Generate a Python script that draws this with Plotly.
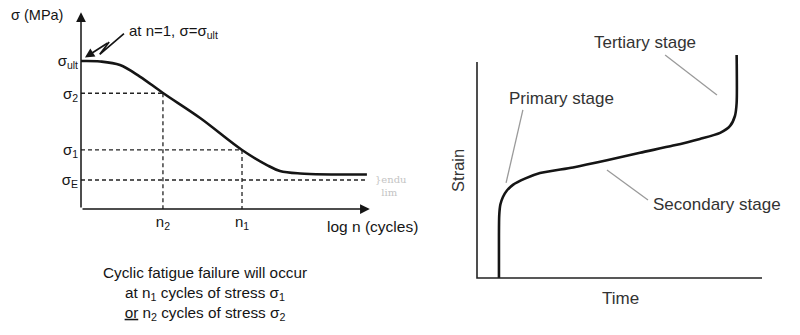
import plotly.graph_objects as go

# ---------------- data ----------------
# Left: S-N (stress vs log cycles) curve
sn_log_n = [0.0, 0.53, 1.08, 1.63, 2.27, 3.30, 4.46, 5.15, 5.51, 6.07, 7.92]
sn_sigma = [100, 99.7, 97.3, 89.5, 78.4, 61.5, 39.9, 29.7, 25.7, 24.0, 23.3]
sigma_tick_vals = [19.6, 39.9, 78.2, 100]
sigma_tick_text = ["σ<sub>E</sub>", "σ<sub>1</sub>", "σ<sub>2</sub>", "σ<sub>ult</sub>"]
n_tick_vals = [2.27, 4.46]
n_tick_text = ["n<sub>2</sub>", "n<sub>1</sub>"]
sigma_E_end = 7.92

# Right: creep curve (strain vs time)
creep_time = [0.77, 0.77, 0.78, 0.82, 0.91, 1.05, 1.26, 1.68, 2.21, 3.37, 4.56,
              5.72, 6.88, 7.82, 8.53, 8.88, 9.05, 9.11, 9.11]
creep_strain = [0.0, 2.0, 2.9, 3.4, 3.75, 4.05, 4.31, 4.6, 4.86, 5.12, 5.45,
                5.8, 6.13, 6.44, 6.72, 7.04, 7.5, 8.1, 10.32]

# ---------------- layout geometry ----------------
W, H = 800, 335
FONT = "Liberation Sans, Arial, sans-serif"
INK = "#151515"

# left panel mapping
L_X0, L_XS, L_Y0, L_YS = 81, 36.1, 209, 1.48
l_xr, l_yr = [-0.3, 8.3], [-3, 135]
# right panel mapping
R_X0, R_XS, R_Y0, R_YS = 477, 28.5, 278, 21.6
r_xr, r_yr = [-1.3, 10.4], [-1.6, 11.5]


def xdom(x0, s, r):
    return [(x0 + r[0] * s) / W, (x0 + r[1] * s) / W]


def ydom(y0, s, r):
    return [(H - (y0 - r[0] * s)) / H, (H - (y0 - r[1] * s)) / H]


fig = go.Figure()

# S-N curve
fig.add_trace(go.Scatter(x=sn_log_n, y=sn_sigma, mode="lines",
                         line=dict(color=INK, width=2.6, shape="spline", smoothing=1.0),
                         xaxis="x", yaxis="y", hoverinfo="skip"))

# dashed guide lines
dx, dy = [], []
for n, s in zip(n_tick_vals, [sigma_tick_vals[2], sigma_tick_vals[1]]):
    dx += [0, n, None, n, n, None]
    dy += [s, s, None, s, 0, None]
dx += [0, sigma_E_end]
dy += [sigma_tick_vals[0], sigma_tick_vals[0]]
fig.add_trace(go.Scatter(x=dx, y=dy, mode="lines",
                         line=dict(color="#222", width=1.3, dash="4px,3px"),
                         xaxis="x", yaxis="y", hoverinfo="skip"))

# zigzag pointer
fig.add_trace(go.Scatter(x=[1.19, 0.52, 0.78], y=[118.5, 104.5, 112.8], mode="lines",
                         line=dict(color=INK, width=1.7),
                         xaxis="x", yaxis="y", hoverinfo="skip"))

# creep curve
fig.add_trace(go.Scatter(x=creep_time, y=creep_strain, mode="lines",
                         line=dict(color=INK, width=2.6, shape="spline", smoothing=0.7),
                         xaxis="x2", yaxis="y2", hoverinfo="skip"))

# right axes and leaders
fig.add_trace(go.Scatter(x=[0, 0, 10], y=[10, 0, 0], mode="lines",
                         line=dict(color="#222", width=1.6),
                         xaxis="x2", yaxis="y2", hoverinfo="skip"))
leaders_x = [6.60, 8.42, None, 1.61, 1.02, None, 4.56, 6.0]
leaders_y = [10.32, 8.47, None, 7.78, 4.40, None, 5.0, 3.61]
fig.add_trace(go.Scatter(x=leaders_x, y=leaders_y, mode="lines",
                         line=dict(color="#9a9a9a", width=1.3),
                         xaxis="x2", yaxis="y2", hoverinfo="skip"))

ann = []
# left axes arrows
ann.append(dict(x=8.0, y=0, ax=0, ay=0, xref="x", yref="y", axref="x", ayref="y",
                showarrow=True, arrowhead=2, arrowsize=1.3, arrowwidth=1.5,
                arrowcolor=INK, text=""))
ann.append(dict(x=0, y=133, ax=0, ay=0, xref="x", yref="y", axref="x", ayref="y",
                showarrow=True, arrowhead=2, arrowsize=1.3, arrowwidth=1.5,
                arrowcolor=INK, text=""))
# zigzag arrow tip
ann.append(dict(x=0.11, y=102.3, ax=0.78, ay=112.8, xref="x", yref="y", axref="x",
                ayref="y", showarrow=True, arrowhead=2, arrowsize=1.1, arrowwidth=1.7,
                arrowcolor=INK, text=""))


def txt(text, x, y, size, color=INK, ref=("paper", "paper"), **kw):
    d = dict(x=x, y=y, xref=ref[0], yref=ref[1], text=text, showarrow=False,
             xanchor=kw.pop("xanchor", "center"), yanchor=kw.pop("yanchor", "middle"),
             font=dict(size=size, color=color, family=kw.pop("family", FONT)))
    d.update(kw)
    return d


ann.append(txt("at n=1, σ=σ<sub>ult</sub>", 127 / W, 1 - 32 / H, 15, xanchor="left"))
ann.append(txt("σ (MPa)", 37 / W, 1 - 15 / H, 14.5))
ann.append(txt("log n (cycles)", 372 / W, 1 - 226 / H, 15.5))
ann.append(txt("}endu<br>  lim", 391 / W, 1 - 186 / H, 10, color="#c4c4c4",
               family="DejaVu Serif", align="left"))
ann.append(txt("Cyclic fatigue failure will occur<br>at n<sub>1</sub> cycles of stress σ<sub>1</sub><br>"
               "<u>or</u> n<sub>2</sub> cycles of stress σ<sub>2</sub>",
               205 / W, 1 - 293 / H, 15.3, align="center"))

# right labels
RC = "#333"
for t, x, y in [("Tertiary stage", 5.89, 10.88), ("Primary stage", 2.98, 8.33),
                ("Secondary stage", 8.42, 3.38), ("Time", 5.02, -0.93)]:
    ann.append(txt(t, x, y, 17, color=RC, ref=("x2", "y2")))
ann.append(txt("Strain", -0.67, 5.0, 16.5, color=RC, ref=("x2", "y2"), textangle=-90))

hidden = dict(visible=False, showgrid=False, zeroline=False, fixedrange=True)

fig.update_layout(
    width=W, height=H, margin=dict(l=0, r=0, t=0, b=0),
    paper_bgcolor="white", plot_bgcolor="rgba(0,0,0,0)", showlegend=False,
    xaxis=dict(domain=xdom(L_X0, L_XS, l_xr), range=l_xr, showgrid=False,
               zeroline=False, showline=False, tickvals=n_tick_vals, ticktext=n_tick_text,
               ticks="", anchor="free", position=(H - L_Y0) / H, ticklabelstandoff=2,
               tickfont=dict(size=15, color=INK, family=FONT)),
    yaxis=dict(domain=ydom(L_Y0, L_YS, l_yr), range=l_yr, showgrid=False,
               zeroline=False, showline=False, tickvals=sigma_tick_vals,
               ticktext=sigma_tick_text, ticks="", anchor="free", position=L_X0 / W,
               ticklabelstandoff=3, tickfont=dict(size=15, color=INK, family=FONT)),
    xaxis2=dict(domain=xdom(R_X0, R_XS, r_xr), range=r_xr, anchor="y2", **hidden),
    yaxis2=dict(domain=ydom(R_Y0, R_YS, r_yr), range=r_yr, anchor="x2", **hidden),
    annotations=ann,
)

fig.write_html("out.html")
